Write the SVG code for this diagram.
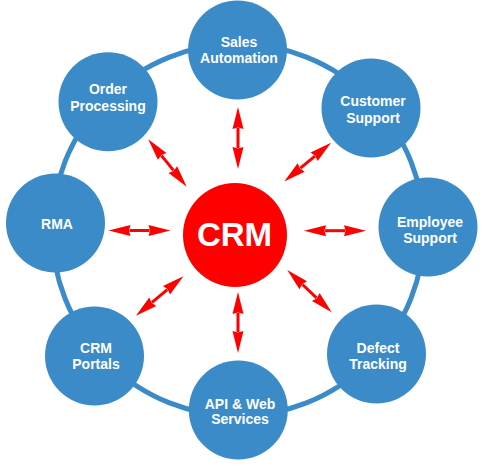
<svg xmlns="http://www.w3.org/2000/svg" width="483" height="469" viewBox="0 0 483 469">
  <defs>
    <style>
      .ring { fill: none; stroke: #3a8bc8; stroke-width: 5; }
      .node { fill: #3a8bc8; }
      .hub { fill: #ff0000; }
      .lbl { fill: #ffffff; font-family: "Liberation Sans", Arial, sans-serif; font-weight: bold; font-size: 14px; text-anchor: middle; }
      .hublbl { fill: #ffffff; font-family: "Liberation Sans", Arial, sans-serif; font-weight: bold; font-size: 33px; text-anchor: middle; }
      .arrow { stroke: #ff0000; stroke-width: 3; fill: none; marker-start: url(#head); marker-end: url(#head); }
    </style>
    <marker id="head" markerUnits="userSpaceOnUse" markerWidth="24" markerHeight="12" viewBox="0 -6 24 12" refX="1" refY="0" orient="auto-start-reverse" overflow="visible">
      <path d="M0,-5.5 L22,0 L0,5.5 L1.5,0 Z" fill="#ff0000"/>
    </marker>
  </defs>

  <circle class="ring" cx="238" cy="230" r="186"/>

  <g id="connectors">
    <line class="arrow" x1="238" y1="128" x2="238" y2="148"/>
    <line class="arrow" x1="238" y1="313" x2="238" y2="332"/>
    <line class="arrow" x1="129.5" y1="230.5" x2="149.5" y2="230.5"/>
    <line class="arrow" x1="325" y1="230.7" x2="345" y2="230.7"/>
    <line class="arrow" x1="300.4" y1="168.2" x2="314.9" y2="156.2"/>
    <line class="arrow" x1="161.5" y1="155.6" x2="173.5" y2="170.4"/>
    <line class="arrow" x1="152.0" y1="302.4" x2="167.3" y2="289.6"/>
    <line class="arrow" x1="302.5" y1="284.5" x2="316.5" y2="297.8"/>
  </g>

  <g id="crm">
    <circle class="hub" cx="235" cy="235" r="52"/>
    <text class="hublbl" x="234.5" y="246">CRM</text>
  </g>

  <g id="sales-automation">
    <circle class="node" cx="237.5" cy="50" r="49.5"/>
    <text class="lbl" x="239" y="47">Sales</text>
    <text class="lbl" x="239" y="63">Automation</text>
  </g>

  <g id="customer-support">
    <circle class="node" cx="371" cy="108" r="49.5"/>
    <text class="lbl" x="373" y="106">Customer</text>
    <text class="lbl" x="373" y="122.5">Support</text>
  </g>

  <g id="employee-support">
    <circle class="node" cx="428" cy="227" r="49.5"/>
    <text class="lbl" x="430" y="226.5">Employee</text>
    <text class="lbl" x="430" y="243">Support</text>
  </g>

  <g id="defect-tracking">
    <circle class="node" cx="376.5" cy="354" r="49.5"/>
    <text class="lbl" x="378" y="352.5">Defect</text>
    <text class="lbl" x="378" y="369">Tracking</text>
  </g>

  <g id="api-web-services">
    <circle class="node" cx="238.3" cy="410" r="49.5"/>
    <text class="lbl" x="240" y="408.5">API &amp; Web</text>
    <text class="lbl" x="240" y="424">Services</text>
  </g>

  <g id="crm-portals">
    <circle class="node" cx="94.5" cy="356" r="49.5"/>
    <text class="lbl" x="96" y="352.5">CRM</text>
    <text class="lbl" x="96" y="369">Portals</text>
  </g>

  <g id="rma">
    <circle class="node" cx="55.5" cy="223" r="49.5"/>
    <text class="lbl" x="57" y="229">RMA</text>
  </g>

  <g id="order-processing">
    <circle class="node" cx="108" cy="101.7" r="49.5"/>
    <text class="lbl" x="108" y="94">Order</text>
    <text class="lbl" x="108" y="110.5">Processing</text>
  </g>
</svg>
